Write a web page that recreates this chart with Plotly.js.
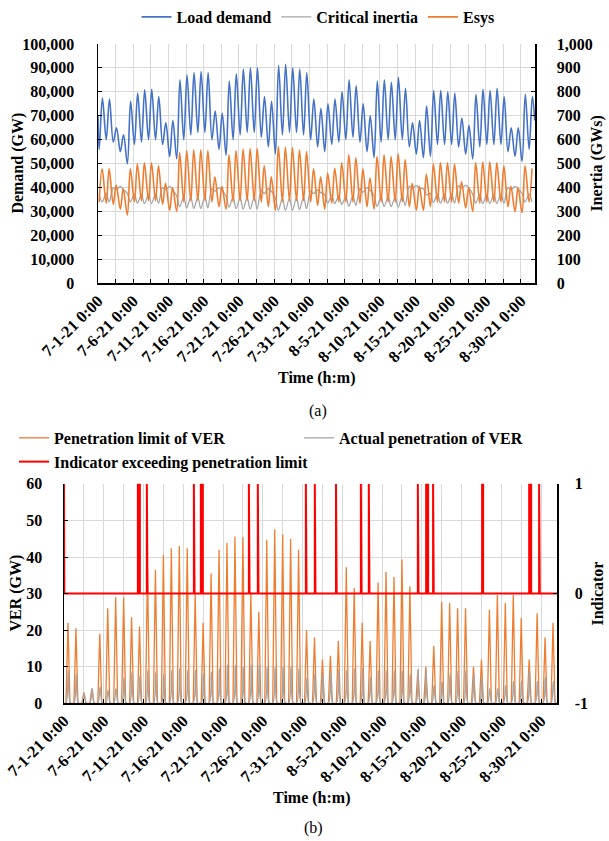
<!DOCTYPE html>
<html><head><meta charset="utf-8">
<script src="https://cdn.plot.ly/plotly-3.0.1.min.js"></script>
<style>html,body{margin:0;padding:0;background:#fff}#chart{width:609px;height:841px}</style>
</head><body><div id="chart"></div>
<script>
// ---- Data (one value per day, 7/1/21 .. 8/31/21) ----
const loadMax = [77400,77000,65000,62000,76000,79500,80800,81000,78000,67000,68000,85000,87000,88000,88500,88000,72000,71000,84500,87500,89500,90000,90000,78000,76000,91000,91500,90000,89500,88000,77000,73000,75000,77000,80000,85000,82500,75000,70000,84500,85000,84000,86000,81500,67000,68000,74000,80500,80500,80000,79500,69000,66000,79000,81000,80500,81500,78000,65000,65000,79000,78000];
const loadMin = [56000,60000,59000,55000,50000,58000,59000,60000,60000,58000,53000,52000,60000,62000,63000,63000,60000,56000,53500,60000,62000,63000,63000,61000,57000,54000,62000,63000,63000,62000,60000,57000,55000,58000,59000,60000,61000,59000,55000,52500,59000,60000,60000,60000,57000,54000,52500,53000,58000,58000,58000,57000,54000,52000,57000,58000,58000,58000,55000,53000,51000,56000];
const loadFirst = 70000, loadLast = 68000;
const esysMax = [478,478,410,395,478,498,503,503,491,418,400,546,555,558,558,555,445,405,537,555,561,563,563,491,445,572,569,567,558,550,478,445,461,480,503,537,524,478,440,530,537,530,541,517,418,405,455,498,503,503,498,424,400,503,507,507,503,491,405,400,491,480];
const esysMin = [340,335,330,310,285,340,345,345,345,330,305,300,340,345,345,345,340,320,310,340,345,345,345,340,320,305,340,345,345,345,340,325,310,335,340,340,340,335,320,310,340,340,340,340,320,305,305,320,340,340,340,335,315,300,335,340,340,340,320,300,295,340];
const critHigh = [375,375,400,405,375,372,370,370,372,400,405,365,360,360,360,362,395,400,365,360,358,358,360,390,395,355,355,355,358,360,385,390,370,368,365,362,365,395,400,365,362,362,360,365,405,408,395,375,372,372,372,408,410,372,370,370,370,372,400,405,375,372];
const critLow = [340,340,390,392,340,335,333,333,335,390,390,320,315,313,313,315,385,388,318,312,310,310,310,375,385,305,305,305,308,312,375,380,335,333,330,322,325,380,390,322,320,320,318,325,395,398,370,338,335,335,335,398,400,335,333,333,333,335,390,395,340,340];
const verLimitPeak = [22,20.5,3,4,19,26,29,29,23.5,21,36.4,36.5,40.6,42.4,43,42.4,30,22,35.5,42,43.8,45.6,45.4,30,25,44.7,47.6,46.2,45,42,20,18,12,13,17,37.2,31.5,22,17,33,36,34.5,39.3,32,9,10,15.7,27.8,27.4,26,26,10,12,25.6,29.6,27.4,29.6,23.3,12,24.6,18,22];
const verActualPeak = [9,8,2.5,4,4.5,3.5,4,7,8.5,7.5,9,8.5,8,9,9.5,9,9,8,8.5,9.5,10.5,10.5,10,10.5,10.5,10,10,10,10,9.5,7,8,8,8.5,9,9,9.5,9.5,7,9,9,9,9,8,9.5,9,5,6,8,9,9,8,7,4,4,5,6,6,9,6,7,6];
const verNight = 0;
// indicator = 1 during these periods (hours from 7/1/21 0:00), 0 otherwise
const indicatorOn = [[0,1],[223,229],[250,252],[392,394],[413,419],[558,560],[585,587],[730,732],[757,759],[821,823],[896,898],[920,922],[1068,1070],[1093,1099],[1114,1116],[1262,1265],[1404,1410],[1434,1436]];
const tickLabels = ['7-1-21 0:00','7-6-21 0:00','7-11-21 0:00','7-16-21 0:00','7-21-21 0:00','7-26-21 0:00','7-31-21 0:00','8-5-21 0:00','8-10-21 0:00','8-15-21 0:00','8-20-21 0:00','8-25-21 0:00','8-30-21 0:00'];

// ---- helpers ----
const T0 = Date.UTC(2021,6,1);
function t(h){ return new Date(T0 + h*3600000).toISOString().slice(0,16).replace('T',' '); }
const nDays = loadMax.length, totalH = nDays*24;

function dailyPair(lowArr, lowH, highArr, highH){
  const x=[], y=[];
  for(let d=0; d<nDays; d++){
    const pts=[[lowH,lowArr[d]],[highH,highArr[d]]].sort((a,b)=>a[0]-b[0]);
    pts.forEach(p=>{ x.push(t(d*24+p[0])); y.push(p[1]); });
  }
  return {x,y};
}
const L = dailyPair(loadMin,4,loadMax,15);
L.x.unshift(t(0)); L.y.unshift(loadFirst); L.x.push(t(totalH-1)); L.y.push(loadLast);
const E = dailyPair(esysMin,4,esysMax,14);
const C = dailyPair(critHigh,4,critLow,14);

function spikes(peaks, h0, hp, h1){
  const x=[t(0)], y=[verNight];
  for(let d=0; d<nDays; d++){
    x.push(t(d*24+h0)); y.push(verNight);
    x.push(t(d*24+hp)); y.push(peaks[d]);
    x.push(t(d*24+h1)); y.push(verNight);
  }
  x.push(t(totalH)); y.push(verNight);
  return {x,y};
}
const VL = spikes(verLimitPeak,6,12,18);
const VA = spikes(verActualPeak,6,13,20);
const IX=[t(0)], IY=[0];
indicatorOn.forEach(([a,b])=>{ IX.push(t(a),t(a),t(b),t(b)); IY.push(0,1,1,0); });
IX.push(t(totalH)); IY.push(0);

const tickvals=[], ticktext=[];
for(let i=0;i<=24;i++){ tickvals.push(t(i*60)); ticktext.push(i%2===0 ? tickLabels[i/2] : ''); }

// ---- styling ----
const FF = 'Liberation Serif, Times New Roman, serif';
const bold = (s)=>({family:FF, size:s, color:'#000', weight:'bold'});
const BLUE='#4472C4', ORANGE='#ED7D31', GRAY='#A5A5A5', RED='#FF0000';
const W=609, H=841;
const px = v=>v/W, py = v=>1-v/H;

const xBase = {type:'date', range:[t(0),t(totalH)], tickmode:'array', tickvals, ticktext, tickangle:-45,
  ticks:'inside', ticklen:4, tickcolor:'#000', tickwidth:1, showgrid:true, gridcolor:'#d9d9d9', gridwidth:1,
  showline:true, linecolor:'#000', linewidth:1.5, zeroline:false, tickfont:bold(16.5), fixedrange:true};
const yBase = {ticks:'inside', ticklen:4, tickcolor:'#000', tickwidth:1, showline:true, linecolor:'#000', linewidth:1.5,
  zeroline:false, gridcolor:'#d9d9d9', gridwidth:1, tickfont:bold(16), fixedrange:true};

const traces = [
  {x:L.x, y:L.y, name:'Load demand', type:'scatter', mode:'lines', line:{color:BLUE,width:1.6,shape:'spline'}, xaxis:'x', yaxis:'y', legend:'legend'},
  {x:C.x, y:C.y, name:'Critical inertia', type:'scatter', mode:'lines', line:{color:GRAY,width:1.3,shape:'spline'}, xaxis:'x', yaxis:'y2', legend:'legend'},
  {x:E.x, y:E.y, name:'Esys', type:'scatter', mode:'lines', line:{color:ORANGE,width:1.6,shape:'spline'}, xaxis:'x', yaxis:'y2', legend:'legend'},
  {x:VL.x, y:VL.y, name:'Penetration limit of VER', type:'scatter', mode:'lines', line:{color:ORANGE,width:1.3}, xaxis:'x2', yaxis:'y3', legend:'legend2'},
  {x:VA.x, y:VA.y, name:'Actual penetration of VER', type:'scatter', mode:'lines', line:{color:GRAY,width:1.3,shape:'spline'}, xaxis:'x2', yaxis:'y3', legend:'legend2'},
  {x:IX, y:IY, name:'Indicator exceeding penetration limit', type:'scatter', mode:'lines', line:{color:RED,width:2}, xaxis:'x2', yaxis:'y4', legend:'legend2'}
];

const ann = (text,x,y,opts={})=>Object.assign({text, x:px(x), y:py(y), xref:'paper', yref:'paper', showarrow:false, xanchor:'center', yanchor:'middle', font:bold(16)}, opts);

const layout = {
  width:W, height:H, autosize:false, margin:{l:0,r:0,t:0,b:0}, paper_bgcolor:'#fff', plot_bgcolor:'#fff',
  font:{family:FF, color:'#000'},
  xaxis:Object.assign({}, xBase, {domain:[px(98),px(535)], anchor:'y'}),
  yaxis:Object.assign({}, yBase, {domain:[py(282),py(42)], anchor:'x', range:[0,100000], dtick:10000, tickformat:',d', ticklabelstandoff:19}),
  yaxis2:Object.assign({}, yBase, {overlaying:'y', side:'right', anchor:'x', range:[0,1000], dtick:100, tickformat:',d', showgrid:false, ticklabelstandoff:17}),
  xaxis2:Object.assign({}, xBase, {domain:[px(64),px(557)], anchor:'y3'}),
  yaxis3:Object.assign({}, yBase, {domain:[py(703),py(483)], anchor:'x2', range:[0,60], dtick:10, ticklabelstandoff:17}),
  yaxis4:Object.assign({}, yBase, {overlaying:'y3', side:'right', anchor:'x2', range:[-1,1], tickvals:[-1,0,1], ticktext:['-1','0','1'], showgrid:false, ticklabelstandoff:13}),
  showlegend:true,
  legend:{orientation:'h', x:px(318), xanchor:'center', y:py(15), yanchor:'middle', font:bold(16), itemwidth:30, bgcolor:'rgba(0,0,0,0)', traceorder:'normal'},
  legend2:{orientation:'h', x:px(14), xanchor:'left', y:py(449), yanchor:'middle', font:bold(16), itemwidth:30, entrywidth:240, entrywidthmode:'pixels', bgcolor:'rgba(0,0,0,0)', traceorder:'normal'},
  annotations:[
    ann('Demand (GW)',18,162,{textangle:-90}),
    ann('Inertia (GWs)',597,162,{textangle:-90}),
    ann('Time (h:m)',316,377),
    ann('(a)',318,410,{font:{family:FF,size:16,color:'#000'}}),
    ann('VER (GW)',16,593,{textangle:-90}),
    ann('Indicator',598,593,{textangle:-90}),
    ann('Time (h:m)',311,798),
    ann('(b)',313,828,{font:{family:FF,size:16,color:'#000'}})
  ]
};

Plotly.newPlot('chart', traces, layout, {staticPlot:true, displayModeBar:false});
</script></body></html>
